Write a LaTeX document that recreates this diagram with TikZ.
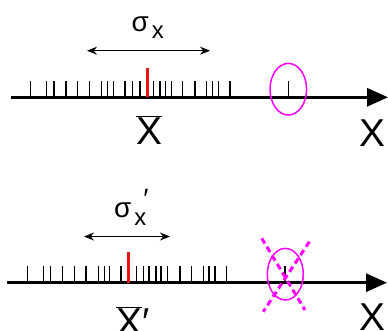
\documentclass[tikz,border=0pt]{standalone}
\usepackage{xcolor}
\usepackage{fontspec}
\setmainfont{Liberation Sans}
\usepackage{tikz}
\usetikzlibrary{arrows.meta,shapes.geometric}
\definecolor{outlier}{HTML}{FF00FF}
\definecolor{meanred}{HTML}{EE1111}

\begin{document}
\begin{tikzpicture}[
    x=1bp, y=-1bp,
    axis/.style={line width=3bp,-{Triangle[length=21bp,width=18bp]}},
    tick/.style={line width=1.1bp},
    meantick/.style={line width=3bp,meanred},
    spread/.style={line width=1.5bp,{Stealth[length=10bp,width=8bp]}-{Stealth[length=10bp,width=8bp]}},
    ring/.style={draw=outlier,line width=1.5bp},
    strike/.style={draw=outlier,line width=3bp,dash pattern=on 6bp off 4bp},
    big/.style={font=\fontsize{39}{40}\selectfont,inner sep=0pt},
    sig/.style={font=\fontsize{28}{30}\selectfont,inner sep=0pt,anchor=base west}
  ]
    \useasboundingbox (0,0) rectangle (388,331);
    \clip (0,0) rectangle (388,331);
    % all samples
    \coordinate (ax0) at (11,97.3);
    \coordinate (ax1) at (388,97.3);
    \draw[axis] (ax0) -- (ax1);
    \foreach \t in {30.7,46.7,54,66,77.7,89.3,101.7,107.7,113.3,125,132.7,140,153.3,160,165.7,171.7,182.7,195,206.7,212.3,218.3,230,288.3}
      \draw[tick] (\t,97.3) -- (\t,81);
    \draw[meantick] (147.7,97.3) -- (147.7,67.7);
    \node[ring,ellipse,minimum width=36.6bp,minimum height=51.6bp,inner sep=0pt] (out0) at (288.3,89.2) {};
    \coordinate (sl0) at (87,50.7);
    \coordinate (sr0) at (210,50.7);
    \draw[spread] (sl0) -- (sr0);
    \node[sig] (sig0) at (131.5,31) {σ\hspace{3bp}\raisebox{-7.3bp}{\fontsize{24}{26}\selectfont x}};
    \node[big,anchor=base west] (mean0) at (136.3,144) {$\overline{\hbox{X}}$};
    \node[big,anchor=base] (x0) at (372.5,146) {X};
    % outlier removed
    \coordinate (ax2) at (7,282.7);
    \coordinate (ax3) at (387,282.7);
    \draw[axis] (ax2) -- (ax3);
    \foreach \t in {27.3,43.3,50.7,62.7,74.3,86,98.3,104.3,109.3,121,136.7,143.3,149,156,161,167.3,180,191.7,203.3,209,215,226.7,285}
      \draw[tick] (\t,282.7) -- (\t,265.7);
    \draw[meantick] (128.3,282.7) -- (128.3,252.3);
    \node[ring,ellipse,minimum width=36bp,minimum height=51.6bp,inner sep=0pt] (out1) at (285.3,274.2) {};
    \coordinate (c1) at (261.7,238.3);
    \coordinate (c2) at (305,310);
    \coordinate (c3) at (309.3,241.7);
    \coordinate (c4) at (263.3,311.7);
    \draw[strike] (c1) -- (c2);
    \draw[strike] (c3) -- (c4);
    \coordinate (sl1) at (84,236.5);
    \coordinate (sr1) at (170,236.5);
    \draw[spread] (sl1) -- (sr1);
    \node[sig] (sig1) at (114,217.3) {σ\hspace{3bp}\raisebox{-7.7bp}{\fontsize{24}{26}\selectfont x}\kern-3bp\raisebox{9bp}{′}};
    \node[big,anchor=base west] (mean1) at (116.3,335) {$\overline{\hbox{X}}$′};
    \node[big,anchor=base] (x1) at (372.5,330) {X};
\end{tikzpicture}
\end{document}
